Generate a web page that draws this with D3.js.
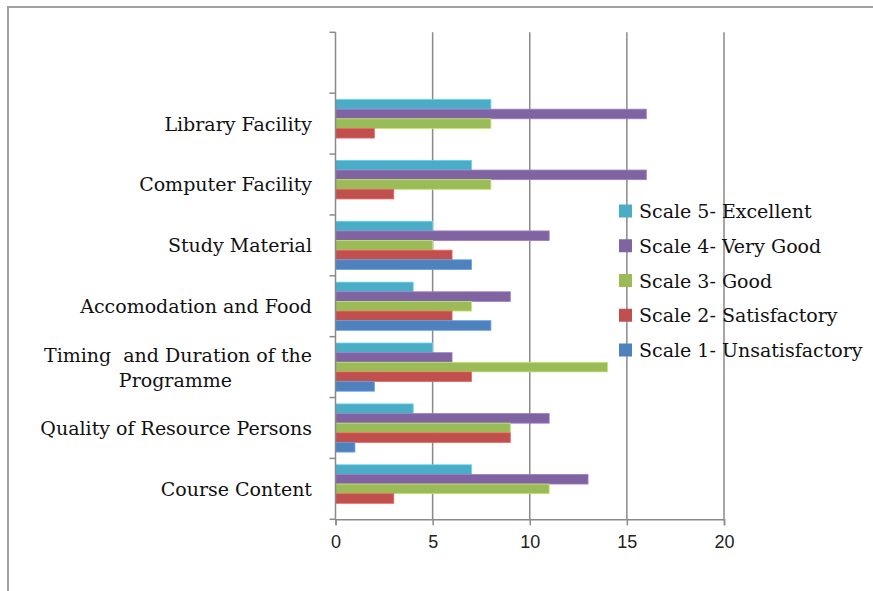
<!DOCTYPE html>
<html>
<head>
<meta charset="utf-8">
<script src="https://cdn.jsdelivr.net/npm/d3@7"></script>
<style>
	body { margin: 0; background: #fff; }
	svg { display: block; }
	text { white-space: pre; }
</style>
</head>
<body>
<svg id="chart" width="873" height="591"></svg>
<script>
// categories top to bottom, the first slot is left empty in the original
const categories = ['', 'Library Facility', 'Computer Facility', 'Study Material', 'Accomodation and Food',
	'Timing  and Duration of the|Programme', 'Quality of Resource Persons', 'Course Content']

const seriesNames = ['Scale 5- Excellent', 'Scale 4- Very Good', 'Scale 3- Good', 'Scale 2- Satisfactory', 'Scale 1- Unsatisfactory']
const seriesColors = ['#4bacc6', '#8064a2', '#9bbb59', '#c0504d', '#4f81bd']

// values per series, same order as categories (without the empty one)
const excellent = [8, 7, 5, 4, 5, 4, 7]
const veryGood = [16, 16, 11, 9, 6, 11, 13]
const good = [8, 8, 5, 7, 14, 9, 11]
const satisfactory = [2, 3, 6, 6, 7, 9, 3]
const unsatisfactory = [0, 0, 7, 8, 2, 1, 0]

const xTicks = [0, 5, 10, 15, 20]

const seriesValues = [excellent, veryGood, good, satisfactory, unsatisfactory]

const svg = d3.select('#chart')

const plot = { left: 335.5, right: 724, top: 32.3, bottom: 519.3 }
const serifFont = 'DejaVu Serif'

svg.append('rect')
	.attr('x', 8).attr('y', 7)
	.attr('width', 900).attr('height', 600)
	.attr('fill', '#fff')
	.attr('stroke', '#a0a0a0')
	.attr('stroke-width', 2)

const x = d3.scaleLinear()
	.domain([0, 20])
	.range([plot.left, plot.right])

const y0 = d3.scaleBand()
	.domain(categories)
	.range([plot.top, plot.bottom])

const y1 = d3.scaleBand()
	.domain(seriesNames)
	.range([0, y0.bandwidth()])
	.paddingOuter(0.66)

// vertical gridlines
svg.append('g').selectAll('line')
	.data(xTicks.slice(1))
	.enter().append('line')
		.attr('x1', d => x(d)).attr('x2', d => x(d))
		.attr('y1', plot.top).attr('y2', plot.bottom)
		.attr('stroke', '#8a8a8a')
		.attr('stroke-width', 1.5)

// bars
const data = []
categories.slice(1).forEach((c, i) => {
	seriesNames.forEach((s, j) => {
		data.push({ cat: c, series: s, value: seriesValues[j][i], color: seriesColors[j] })
	})
})

svg.append('g').selectAll('rect')
	.data(data.filter(d => d.value > 0))
	.enter().append('rect')
		.attr('x', x(0))
		.attr('y', d => y0(d.cat) + y1(d.series))
		.attr('width', d => x(d.value) - x(0))
		.attr('height', y1.bandwidth())
		.attr('fill', d => d.color)
		.attr('stroke', d => d3.color(d.color).brighter(0.6))
		.attr('stroke-width', 0.8)

// x axis
const xAxis = svg.append('g')
	.attr('transform', 'translate(0,' + plot.bottom + ')')
	.call(d3.axisBottom(x).tickValues(xTicks).tickSize(6).tickPadding(10))
xAxis.select('.domain').attr('stroke', '#8a8a8a').attr('stroke-width', 1.5)
xAxis.selectAll('.tick line').attr('stroke', '#8a8a8a').attr('stroke-width', 1.5)
xAxis.selectAll('.tick text')
	.style('font-family', 'Liberation Sans')
	.style('font-size', '18px')
	.attr('fill', '#222')

// y axis: ticks on the band boundaries
const yBounds = categories.map(c => y0(c)).concat([plot.bottom])
const yAxis = svg.append('g')
yAxis.append('line')
	.attr('x1', plot.left).attr('x2', plot.left)
	.attr('y1', plot.top).attr('y2', plot.bottom)
	.attr('stroke', '#8a8a8a').attr('stroke-width', 1.5)
yAxis.selectAll('.ytick')
	.data(yBounds)
	.enter().append('line')
		.attr('x1', plot.left - 6).attr('x2', plot.left)
		.attr('y1', d => d).attr('y2', d => d)
		.attr('stroke', '#8a8a8a').attr('stroke-width', 1.5)

// plain text helper (no spacing or dy, those made the serif fall back)
function addText(xPos, yPos, str, anchor) {
	return svg.append('text')
		.attr('x', xPos).attr('y', yPos + 7)
		.attr('text-anchor', anchor)
		.attr('fill', '#111')
		.style('font-family', serifFont)
		.style('font-size', '19px')
		.text(str)
}

// category labels
categories.slice(1).forEach((c) => {
	const parts = c.split('|')
	const cy = y0(c) + y0.bandwidth() / 2
	if (parts.length === 1) {
		addText(312, cy, parts[0], 'end')
	} else {
		addText(312, cy - 12.5, parts[0], 'end')
		addText(232, cy + 12.5, parts[1], 'end')
	}
})

// legend
const legendY = d3.scalePoint()
	.domain(seriesNames)
	.range([211, 350])

seriesNames.forEach((s, j) => {
	svg.append('rect')
		.attr('x', 619).attr('y', legendY(s) - 6.5)
		.attr('width', 13).attr('height', 13)
		.attr('fill', seriesColors[j])
	addText(639, legendY(s), s, 'start')
})
</script>
</body>
</html>
